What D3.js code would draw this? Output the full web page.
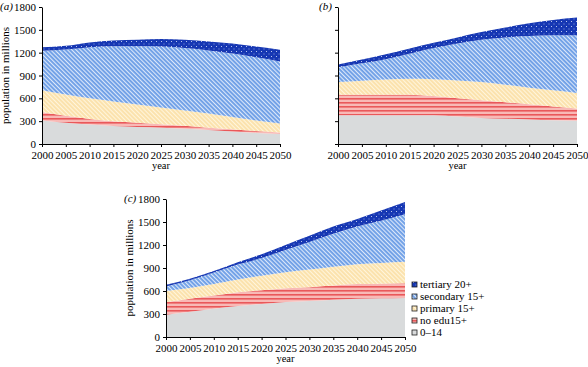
<!DOCTYPE html>
<html>
<head>
<meta charset="utf-8">
<script src="https://cdn.jsdelivr.net/npm/d3@7"></script>
<style>
  body { margin: 0; background: #fff; }
  svg text { font-family: "Liberation Serif", "DejaVu Serif", serif; }
</style>
</head>
<body>
<div id="chart"></div>
<script>
var w = 588;
var h = 367;

var years = [2000, 2005, 2010, 2015, 2020, 2025, 2030, 2035, 2040, 2045, 2050];
var keys = ["child", "noedu", "primary", "secondary", "tertiary"];
var legendLabels = ["tertiary 20+", "secondary 15+", "primary 15+", "no edu15+", "0\u201314"];
var yTicks = [0, 300, 600, 900, 1200, 1500, 1800];

// panel (a): layer thicknesses, millions
var aChild     = [310, 280, 255, 235, 225, 215, 200, 185, 165, 145, 130];
var aNoedu     = [110,  90,  75,  65,  55,  45,  40,  30,  30,  25,  22];
var aPrimary   = [285, 280, 270, 260, 240, 220, 200, 185, 160, 140, 118];
var aSecondary = [520, 590, 670, 725, 765, 800, 820, 830, 835, 830, 815];
var aTertiary  = [ 45,  50,  65,  75,  85,  98, 110, 118, 132, 140, 154];

// panel (b)
var bChild     = [378, 378, 378, 378, 378, 360, 343, 332, 322, 312, 304];
var bNoedu     = [270, 270, 270, 270, 252, 240, 231, 216, 200, 182, 161];
var bPrimary   = [165, 184, 200, 209, 222, 235, 239, 230, 217, 211, 205];
var bSecondary = [196, 228, 267, 328, 408, 485, 557, 622, 681, 723, 760];
var bTertiary  = [ 34,  50,  65,  70,  70,  80, 100, 130, 165, 202, 231];

// panel (c)
var cChild     = [290, 330, 370, 405, 430, 455, 470, 487, 500, 505, 510];
var cNoedu     = [165, 170, 170, 180, 180, 180, 180, 185, 190, 190, 190];
var cPrimary   = [145, 140, 150, 165, 190, 210, 230, 245, 260, 270, 280];
var cSecondary = [ 60, 100, 150, 195, 230, 290, 360, 430, 490, 550, 620];
var cTertiary  = [ 20,  20,  20,  30,  50,  65,  80,  95, 100, 135, 160];

function rows(arrs) {
  return years.map(function(y, i) {
    var r = { year: y };
    keys.forEach(function(k, j) { r[k] = arrs[j][i]; });
    return r;
  });
}

var panels = [
  { label: "(a)", data: rows([aChild, aNoedu, aPrimary, aSecondary, aTertiary]), x0: 42, x1: 280, top: 7, bottom: 144, yLabels: true },
  { label: "(b)", data: rows([bChild, bNoedu, bPrimary, bSecondary, bTertiary]), x0: 338, x1: 577, top: 7, bottom: 144, yLabels: false },
  { label: "(c)", data: rows([cChild, cNoedu, cPrimary, cSecondary, cTertiary]), x0: 166, x1: 405, top: 199, bottom: 337, yLabels: true }
];

var serif = "Liberation Serif";

var svg = d3.select("#chart")
            .append("svg")
            .attr("width", w)
            .attr("height", h)
            .attr("font-family", serif);

// fill patterns
var defs = svg.append("defs");

var pChild = defs.append("pattern").attr("id", "p-child")
  .attr("patternUnits", "userSpaceOnUse").attr("width", 4).attr("height", 4);
pChild.append("rect").attr("width", 4).attr("height", 4).attr("fill", "#d9dbdc");

var pNoedu = defs.append("pattern").attr("id", "p-noedu")
  .attr("patternUnits", "userSpaceOnUse").attr("width", 4).attr("height", 4);
pNoedu.append("rect").attr("width", 4).attr("height", 4).attr("fill", "#f8b9b6");
pNoedu.append("rect").attr("y", 2).attr("width", 4).attr("height", 1.6).attr("fill", "#e9585a");

var pPrim = defs.append("pattern").attr("id", "p-primary")
  .attr("patternUnits", "userSpaceOnUse").attr("width", 3).attr("height", 3)
  .attr("patternTransform", "rotate(-45)");
pPrim.append("rect").attr("width", 3).attr("height", 3).attr("fill", "#fbe2ad");
pPrim.append("rect").attr("width", 1).attr("height", 3).attr("fill", "#fff5dc");

var pSec = defs.append("pattern").attr("id", "p-secondary")
  .attr("patternUnits", "userSpaceOnUse").attr("width", 3).attr("height", 3)
  .attr("patternTransform", "rotate(-45)");
pSec.append("rect").attr("width", 3).attr("height", 3).attr("fill", "#6e9fe6");
pSec.append("rect").attr("width", 1.1).attr("height", 3).attr("fill", "#dde8fa");

var pTer = defs.append("pattern").attr("id", "p-tertiary")
  .attr("patternUnits", "userSpaceOnUse").attr("width", 5).attr("height", 5);
pTer.append("rect").attr("width", 5).attr("height", 5).attr("fill", "#1637b3");
pTer.append("rect").attr("x", 1).attr("y", 1).attr("width", 1).attr("height", 1).attr("fill", "#b9c6ee");
pTer.append("rect").attr("x", 3.5).attr("y", 3.5).attr("width", 1).attr("height", 1).attr("fill", "#8fa3e0");

var fills = {
  child: "url(#p-child)",
  noedu: "url(#p-noedu)",
  primary: "url(#p-primary)",
  secondary: "url(#p-secondary)",
  tertiary: "url(#p-tertiary)"
};

var stack = d3.stack().keys(keys);

panels.forEach(function(p) {
  var x = d3.scaleLinear().domain([2000, 2050]).range([p.x0, p.x1]);
  var y = d3.scaleLinear().domain([0, 1800]).range([p.bottom, p.top]);

  var area = d3.area()
    .x(function(d) { return x(d.data.year); })
    .y0(function(d) { return y(d[0]); })
    .y1(function(d) { return y(d[1]); })
    .curve(d3.curveMonotoneX);

  var g = svg.append("g");

  g.selectAll("path.layer")
    .data(stack(p.data))
    .enter()
    .append("path")
    .attr("class", "layer")
    .attr("d", area)
    .attr("fill", function(d) { return fills[d.key]; });

  var xAxis = g.append("g")
    .attr("transform", "translate(0," + p.bottom + ")")
    .call(d3.axisBottom(x).tickValues(years).tickFormat(d3.format("d")).tickSize(3).tickSizeOuter(0));
  xAxis.attr("font-family", serif).attr("font-size", 11);
  xAxis.selectAll("text").attr("fill", "#000").attr("dy", "0.8em");

  var yAxis = g.append("g")
    .attr("transform", "translate(" + p.x0 + ",0)")
    .call(d3.axisLeft(y).tickValues(yTicks).tickSize(3).tickSizeOuter(0)
      .tickFormat(p.yLabels ? d3.format("d") : function() { return ""; }));
  yAxis.attr("font-family", serif).attr("font-size", 11);
  yAxis.selectAll("text").attr("fill", "#000");

  g.selectAll(".domain").attr("stroke", "#000");
  g.selectAll(".tick line").attr("stroke", "#000");

  g.append("text")
    .attr("x", (p.x0 + p.x1) / 2)
    .attr("y", p.bottom + 25)
    .attr("text-anchor", "middle")
    .attr("font-size", 10.5)
    .text("year");

  g.append("text")
    .attr("x", p.yLabels ? p.x0 - 42 : p.x0 - 19)
    .attr("y", p.top + 3)
    .attr("font-size", 11)
    .attr("font-style", "italic")
    .text(p.label);

  if (p.yLabels) {
    g.append("text")
      .attr("transform", "translate(" + (p.x0 - 33) + "," + ((p.top + p.bottom) / 2) + ") rotate(-90)")
      .attr("text-anchor", "middle")
      .attr("font-size", 11)
      .text("population in millions");
  }
});

// legend
var legendKeys = keys.slice().reverse();
var legend = svg.append("g").attr("transform", "translate(412,286)");
var item = legend.selectAll("g")
  .data(legendKeys)
  .enter()
  .append("g")
  .attr("transform", function(d, i) { return "translate(0," + (i * 12) + ")"; });

item.append("rect")
  .attr("x", 0).attr("y", -4)
  .attr("width", 5).attr("height", 5)
  .attr("fill", function(d) { return fills[d]; })
  .attr("stroke", "#222")
  .attr("stroke-width", 0.8);

item.append("text")
  .attr("x", 8)
  .attr("y", 2)
  .attr("font-size", 11)
  .text(function(d, i) { return legendLabels[i]; });
</script>
</body>
</html>
